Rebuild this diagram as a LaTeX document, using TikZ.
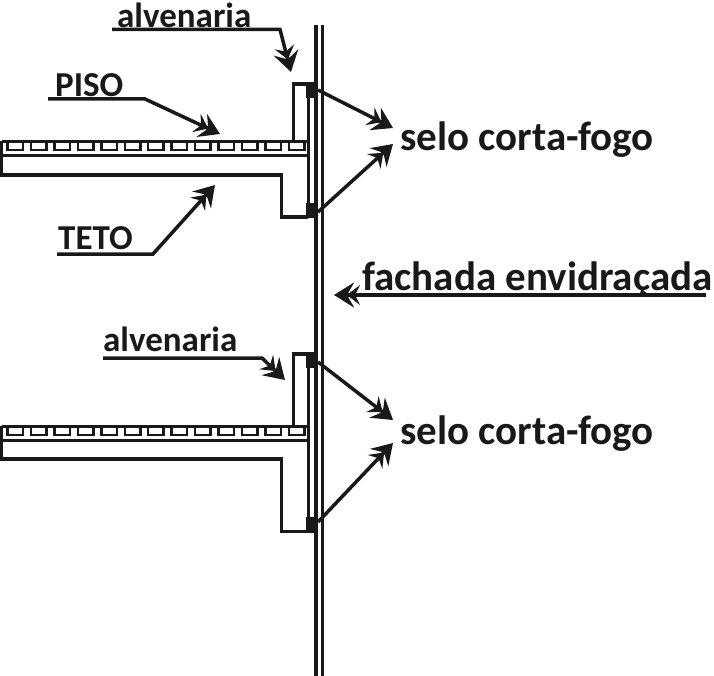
\documentclass[tikz,border=0pt]{standalone}
\usepackage{fontspec}
\setmainfont{Carlito}
\usetikzlibrary{arrows.meta}
\tikzset{
  label/.style={anchor=base west,inner sep=0pt,font=\bfseries\fontsize{41}{41}\selectfont,text=black!90},
  small label/.style={anchor=base west,inner sep=0pt,font=\bfseries\fontsize{35}{35}\selectfont,text=black!90},
  leader/.style={line width=3.5pt,black!90,-{Stealth[length=13pt,width=20pt,inset=5pt,sep=-7pt]Stealth[length=20pt,width=25pt,inset=7pt]}},
  part/.style={line width=3.5pt,black!90},
  seal/.style={fill=black!90,draw=none}
}
\begin{document}
\begin{tikzpicture}[x=1pt,y=-1pt]
  \useasboundingbox (0,0) rectangle (714,676);

  % fachada
  \draw [part] (316,25) -- (316,676);
  \draw [part] (322.5,25) -- (322.5,676);
  \draw [part] (308.5,90) -- (308.5,212);
  \draw [part] (308.5,360) -- (308.5,525);

  % upper floor
  \draw [part] (1.5,141.5) -- (308,141.5);
  \draw [part] (1.5,155.5) -- (308,155.5);
  \draw [part] (0,175) -- (281.5,175) -- (281.5,217) -- (308,217);
  \draw [part] (1.5,141) -- (1.5,175);
  \draw [part] (293.5,141) -- (293.5,84) -- (308,84);
  \foreach \i in {0,...,12}
    \draw [line width=2.5pt,black!90] ({7.5+23.45*\i},142) rectangle ({23+23.45*\i},150);
  \fill [seal] (306,82) rectangle (318,98);
  \fill [seal] (306,203) rectangle (318,218);

  % lower floor
  \draw [part] (1.5,426.5) -- (308,426.5);
  \draw [part] (1.5,440.5) -- (308,440.5);
  \draw [part] (0,459) -- (281.5,459) -- (281.5,531.5) -- (308,531.5);
  \draw [part] (1.5,426) -- (1.5,459);
  \draw [part] (293.5,426) -- (293.5,354) -- (308,354);
  \foreach \i in {0,...,12}
    \draw [line width=2.5pt,black!90] ({7.5+23.45*\i},427) rectangle ({23+23.45*\i},435);
  \fill [seal] (306,352) rectangle (318,368);
  \fill [seal] (306,517) rectangle (318,533);

  % labels
  \node [small label] (alvA) at (117,27.5) {alvenaria};
  \node [small label] (piso) at (55,97) {PISO};
  \node [small label] (teto) at (58,250) {TETO};
  \node [small label] (alvB) at (103,351) {alvenaria};
  \node [label] (seloA) at (400,151) {selo corta-fogo};
  \node [label] (seloB) at (400,444) {selo corta-fogo};
  \node [label] (fachada) at (362,290) {fachada envidraçada};

  % leaders
  \coordinate (alvAs) at (112,29.5);
  \coordinate (alvAb) at (280,29.5);
  \coordinate (alvAt) at (291,72);
  \coordinate (pisoS) at (48,99);
  \coordinate (pisoB) at (145,99);
  \coordinate (pisoT) at (220,134);
  \coordinate (tetoS) at (57,254);
  \coordinate (tetoB) at (153,254);
  \coordinate (tetoT) at (215,185);
  \coordinate (alvBs) at (103,358);
  \coordinate (alvBb) at (262,358);
  \coordinate (alvBt) at (285,380);
  \coordinate (facS) at (706,295);
  \coordinate (facT) at (334,295);
  \coordinate (sealAa) at (318,90);
  \coordinate (sealAb) at (318,212);
  \coordinate (sealBa) at (318,362);
  \coordinate (sealBb) at (318,522);
  \coordinate (tipAa) at (393,128);
  \coordinate (tipAb) at (393,144);
  \coordinate (tipBa) at (393,420);
  \coordinate (tipBb) at (393,443);

  \draw [leader] (alvAs) -- (alvAb) -- (alvAt);
  \draw [leader] (pisoS) -- (pisoB) -- (pisoT);
  \draw [leader] (tetoS) -- (tetoB) -- (tetoT);
  \draw [leader] (alvBs) -- (alvBb) -- (alvBt);
  \draw [leader] (facS) -- (facT);
  \draw [leader] (sealAa) -- (tipAa);
  \draw [leader] (sealAb) -- (tipAb);
  \draw [leader] (sealBa) -- (tipBa);
  \draw [leader] (sealBb) -- (tipBb);
\end{tikzpicture}
\end{document}
